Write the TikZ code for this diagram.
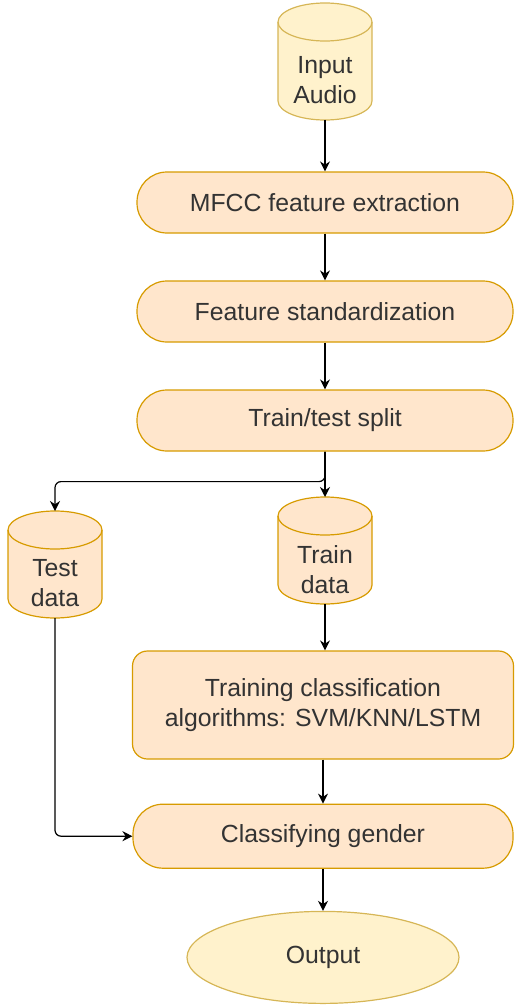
\documentclass[tikz,border=0pt]{standalone}
\usepackage{fontspec}
\setmainfont{Liberation Sans}
\usepackage{tikz}
\usetikzlibrary{positioning, arrows.meta, shapes.geometric, backgrounds}

\definecolor{peach}{HTML}{FFE6CC}
\definecolor{peachline}{HTML}{D79B00}
\definecolor{cream}{HTML}{FFF2CC}
\definecolor{creamline}{HTML}{D6B656}

\begin{document}
\begin{tikzpicture}[
            block/.style={rectangle, draw=peachline, fill=peach, line width=0.6pt, rounded corners=15pt, minimum height=30.5pt, minimum width=188pt},
            % body of a data cylinder, the lid is drawn later
            store/.style={rectangle, inner sep=0pt, outer sep=0pt, minimum width=47pt, minimum height=34.5pt},
            arrow/.style={-{Stealth[length=5pt, width=5pt]}, line width=0.6pt},
            node distance=23.4pt,
            every node/.style={align=center, font=\fontsize{12.4}{15}\selectfont, text=black!80}
        ]
        \useasboundingbox (0,0) rectangle (257.5pt,-503pt);

        % Blocks
        \node[store, minimum height=39.5pt, anchor=north] (audio) at (162.5pt,-20.5pt) {Input\\Audio};
        \node[block, below=25.7pt of audio] (mfcc) {MFCC feature extraction};
        \node[block, below=of mfcc] (stand) {Feature standardization};
        \node[block, below=of stand] (split) {Train/test split};

        % the two data sets
        \node[store, below=41.7pt of split] (train) {Train\\data};
        \node[store, left=88pt of train, yshift=-7pt] (test) {Test\\data};

        \node[block, rounded corners=7.5pt, minimum width=190.5pt, minimum height=54pt, below=23.2pt of train, xshift=-1pt] (algo) {Training classification\\algorithms: SVM/KNN/LSTM};
        \node[block, minimum width=190pt, minimum height=32pt, below=22pt of algo] (gender) {Classifying gender};
        \node[ellipse, draw=creamline, fill=cream, line width=0.6pt, minimum width=136pt, minimum height=46pt, below=21pt of gender] (output) {Output};

        % cylinders behind the texts
        \begin{pgfonlayer}{background}
            \foreach \n/\f/\d in {audio/cream/creamline, train/peach/peachline, test/peach/peachline} {
                \draw[line width=0.6pt, draw=\d, fill=\f]
                    ([yshift=9.5pt]\n.north west) -- ([yshift=9.5pt]\n.south west)
                    arc[start angle=180, end angle=360, x radius=23.5pt, y radius=9.5pt]
                    -- ([yshift=9.5pt]\n.north east)
                    arc[start angle=0, end angle=180, x radius=23.5pt, y radius=9.5pt] -- cycle;
                \draw[line width=0.6pt, draw=\d] ([yshift=9.5pt]\n.north west)
                    arc[start angle=180, end angle=360, x radius=23.5pt, y radius=9.5pt];
            }
        \end{pgfonlayer}

        % split point below Train/test split
        \coordinate[below=15pt of split] (fork);

        \draw[arrow] (audio) -- (mfcc);
        \draw[arrow] (mfcc) -- (stand);
        \draw[arrow] (stand) -- (split);
        \draw[arrow] (split) -- ([yshift=19pt]train.north);
        \draw[arrow, rounded corners=3pt] (split.south) -- (fork) -| ([yshift=19pt]test.north);
        \draw[arrow] (train) -- (train |- algo.north);
        \draw[arrow, rounded corners=3pt] (test.south) |- (gender.west);
        \draw[arrow] (algo) -- (gender);
        \draw[arrow] (gender) -- (output);

    \end{tikzpicture}
\end{document}
